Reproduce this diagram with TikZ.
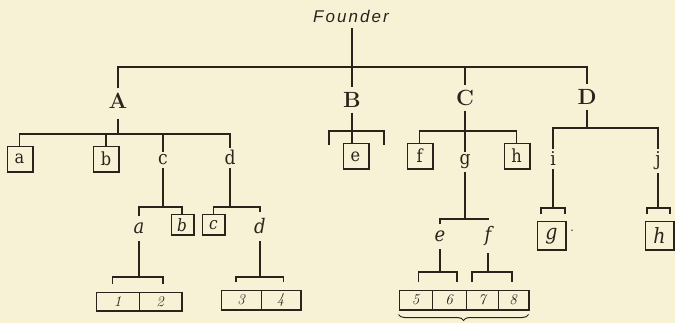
\documentclass[tikz,border=0pt]{standalone}
\usepackage{fontspec}
\usetikzlibrary{decorations.pathreplacing}
\newfontfamily\fdrfont[LetterSpace=12]{Liberation Sans}
\newfontfamily\dvs{DejaVu Serif Condensed}
\definecolor{bg}{RGB}{247,242,214}
\definecolor{ink}{RGB}{40,36,28}
\begin{document}
\begin{tikzpicture}[x=1pt,y=-1pt, color=ink, line width=1.3pt,
  fdr/.style={font=\fontsize{17}{17}\selectfont\fdrfont\itshape, inner sep=2pt},
  capl/.style={font=\fontsize{22}{22}\selectfont\bfseries, inner sep=0pt, outer sep=5pt},
  up/.style={font=\fontsize{19}{19}\selectfont\dvs, inner sep=0pt, outer sep=3pt, anchor=base},
  itl/.style={font=\fontsize{20}{20}\selectfont\dvs\itshape, inner sep=0pt, outer sep=7pt, anchor=base},
  bxs/.style={draw=ink, line width=1pt, inner sep=0pt, minimum width=25pt, minimum height=25pt, font=\fontsize{18}{18}\selectfont\dvs},
  bxm/.style={draw=ink, line width=1pt, inner sep=0pt, minimum width=22pt, minimum height=20pt, font=\fontsize{17}{17}\selectfont\dvs\itshape},
  bxl/.style={draw=ink, line width=1pt, inner sep=0pt, minimum width=28pt, minimum height=28pt, font=\fontsize{21}{21}\selectfont\dvs\itshape},
  cellbox/.style={draw=ink, line width=1pt, inner sep=0pt, minimum height=18pt, font=\fontsize{15}{15}\selectfont\itshape},
  thk/.style={draw=ink, line width=2pt},
  tick/.style={shorten <=8pt, shorten >=8pt}
]
\fill[bg] (0,0) rectangle (675,323);
\useasboundingbox (0,0) rectangle (675,323);

% level 0 and 1
\node[fdr] (F) at (351,16) {Founder};
\node[capl] (A) at (118,101) {A};
\node[capl] (B) at (352,100) {B};
\node[capl] (C) at (465,98) {C};
\node[capl] (D) at (587,97) {D};

% level 2
\node[bxs] (a) at (19.5,159) {a};
\node[bxs] (b) at (106,159) {b};
\node[up] (c) at (163,165) {c};
\node[up] (d) at (230,165) {d};
\node[bxs] (e) at (355.5,156.5) {e};
\node[bxs] (f) at (419.5,156) {f};
\node[up] (g) at (465,165) {g};
\node[bxs] (h) at (516.5,156) {h};
\node[up] (i) at (553,166) {i};
\node[up] (j) at (658,166) {j};

% level 3
\node[itl] (a3) at (139,234) {a};
\node[bxm] (b3) at (182,225) {b};
\node[bxm] (c3) at (213.5,225) {c};
\node[itl] (d3) at (260,234) {d};
\node[itl] (e3) at (440,242) {e};
\node[itl] (f3) at (488,242) {f};
\node[bxl] (g3) at (551.5,236) {g};
\node[font=\fontsize{18}{18}\selectfont, inner sep=0pt, anchor=base] (gdot) at (572,232) {.};
\node[bxl] (h3) at (659.5,235.5) {h};

% level 4 cells
\node[cellbox, minimum width=43pt] (c1) at (117.5,301.5) {1};
\node[cellbox, minimum width=42pt] (c2) at (160,301.5) {2};
\node[cellbox, minimum width=40pt] (c3b) at (241,300) {3};
\node[cellbox, minimum width=39pt] (c4) at (280.5,300) {4};
\node[cellbox, minimum width=33pt] (c5) at (415.5,300) {5};
\node[cellbox, minimum width=34pt] (c6) at (449,300) {6};
\node[cellbox, minimum width=32pt] (c7) at (482,300) {7};
\node[cellbox, minimum width=30pt] (c8) at (513,300) {8};

% heavy right and bottom edges of the boxes
\foreach \n in {a,b,e,f,h,b3,c3,g3,h3}
  \draw[thk] (\n.north east) -- (\n.south east) -- (\n.south west);
\draw[thk] (c2.north east) -- (c2.south east) -- (c1.south west);
\draw[thk] (c4.north east) -- (c4.south east) -- (c3b.south west);
\draw[thk] (c8.north east) -- (c8.south east) -- (c5.south west);

% Founder to A B C D
\coordinate (bT) at (352,67);
\draw ([yshift=-3pt]F.south -| B) -- (B);
\draw (A) |- (bT) -| (D);
\draw (bT -| C) -- (C);

% A's children
\coordinate (bA) at (118,134);
\draw[shorten <=5pt] (A) -- (bA);
\draw (a) |- (bA) -| (d);
\draw (bA -| b) -- (b);
\draw (bA -| c) -- (c);

% B's bracket
\coordinate (bB) at (352,131);
\coordinate (bBl) at (329,145);
\coordinate (bBr) at (384,145);
\draw (B) -- (bB |- e.north);
\draw (bBl) |- (bB) -| (bBr);

% C's children
\coordinate (bC) at (465,131);
\draw (C) -- (g);
\draw (f) |- (bC) -| (h);

% D's children
\coordinate (bD) at (587,128);
\draw (D) -- (bD);
\draw (i) |- (bD) -| (j);

% level 3 brackets
\coordinate (bc) at (163,207);
\draw (c) -- (bc);
\draw (a3) |- (bc) -| (b3);
\coordinate (bd) at (230,207);
\draw (d) -- (bd);
\draw (c3) |- (bd) -| (d3);
\coordinate (bg) at (465,219);
\draw (g) -- (bg);
\draw (e3) |- (bg) -| (f3);
\coordinate (bi) at (553,208);
\draw (i) -- (bi);
\draw[shorten <=7pt, shorten >=7pt] ([xshift=4pt]g3.north west) |- (bi) -| ([xshift=-1pt]g3.north east);
\coordinate (bj) at (658,208);
\draw (j) -- (bj);
\draw[shorten <=7pt, shorten >=7pt] ([xshift=2pt]h3.north west) |- (bj) -| ([xshift=-4pt]h3.north east);

% level 4 brackets
\coordinate (ba) at (139,277);
\draw (a3) -- (ba);
\draw[tick] ([xshift=-5pt]c1.north) |- (ba) -| ([xshift=3pt]c2.north);
\coordinate (bd4) at (260,277);
\draw (d3) -- (bd4);
\draw[tick] ([xshift=-5pt]c3b.north) |- (bd4) -| ([xshift=3pt]c4.north);
\coordinate (be) at (440,272);
\draw (e3) -- (be);
\draw[tick] ([xshift=3pt]c5.north) |- (be) -| ([xshift=8pt]c6.north);
\coordinate (bf) at (488,272);
\draw (f3) -- (bf);
\draw[tick] ([xshift=-10pt]c7.north) |- (bf) -| ([xshift=-1pt]c8.north);

% brace under 5-8
\draw[decorate, decoration={brace, amplitude=6pt, mirror}, line width=1pt]
  ([yshift=-5pt]c5.south west) -- ([yshift=-5pt]c8.south east);
\end{tikzpicture}
\end{document}
